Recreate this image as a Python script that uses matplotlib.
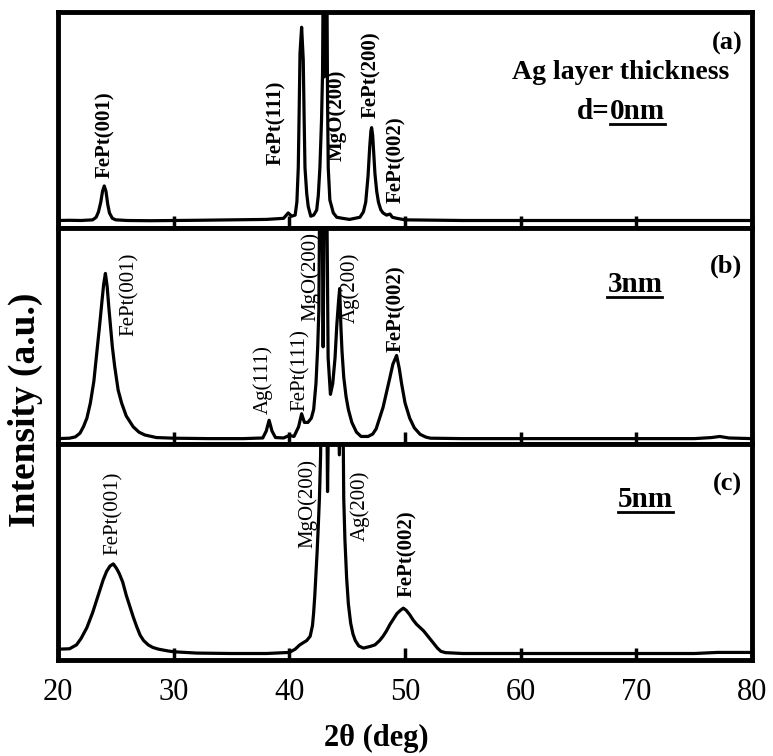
import numpy as np
import matplotlib
matplotlib.use('Agg')
import matplotlib.pyplot as plt
from matplotlib.lines import Line2D

plt.rcParams['font.family'] = ['Liberation Serif', 'DejaVu Serif']

# (a) d = 0 nm
tt_a = [20.0, 21.0, 22.0, 23.0, 23.3, 23.5, 23.7, 23.85, 24.0, 24.15, 24.3, 24.45, 24.7,
        25.0, 26.0, 28.0, 30.0, 32.0, 35.0, 38.0, 39.5, 39.9, 40.2, 40.5, 40.65, 40.77,
        40.85, 40.92, 41.06, 41.2, 41.28, 41.35, 41.5, 41.63, 41.85, 42.1, 42.36, 42.5,
        42.64, 42.78, 42.87, 42.95, 43.02, 43.1, 43.22, 43.3, 43.36, 43.5, 43.8, 44.1,
        44.6, 45.2, 46.1, 46.4, 46.6, 46.8, 46.95, 47.05, 47.11, 47.2, 47.3, 47.4, 47.55,
        47.7, 47.9, 48.1, 48.4, 48.7, 48.9, 49.3, 50.0, 55.0, 60.0, 65.0, 70.0, 75.0, 80.0]
I_a = [3.5, 3.6, 3.5, 3.8, 5, 7.5, 12, 17, 19.5, 17, 11, 7, 4.5,
       3.8, 3.5, 3.4, 3.5, 3.6, 3.8, 4.0, 4.5, 7, 5.5, 6, 12, 28,
       55, 81, 93, 78, 50, 28, 16, 10, 5.5, 6, 8.3, 15,
       28, 50, 72, 140, 70, 140, 140, 60, 28, 13, 7, 5,
       4.5, 4, 5, 7.5, 12, 24, 38, 45, 46.5, 43, 34, 25, 17,
       12, 8.5, 7, 6, 6.5, 5, 4.5, 3.8, 3.5, 3.5, 3.5, 3.5, 3.5, 3.5]

# (b) d = 3 nm
tt_b = [20.0, 21.0, 21.5, 21.9, 22.2, 22.5, 22.8, 23.1, 23.35, 23.6, 23.8, 23.95, 24.1,
        24.25, 24.4, 24.5, 24.7, 24.9, 25.2, 25.5, 25.9, 26.5, 27.0, 27.5, 28.5, 30.0,
        33.0, 36.0, 37.7, 38.0, 38.25, 38.5, 38.8, 39.5, 40.0, 40.4, 40.8, 41.06, 41.3,
        41.6, 41.9, 42.1, 42.3, 42.45, 42.55, 42.65, 42.8, 42.92, 43.05, 43.2, 43.35,
        43.55, 43.75, 43.95, 44.1, 44.25, 44.35, 44.45, 44.55, 44.7, 44.9, 45.1, 45.4,
        45.8, 46.2, 46.8, 47.2, 47.5, 47.8, 48.1, 48.4, 48.7, 48.95, 49.27, 49.5, 49.7,
        50.0, 50.4, 50.8, 51.3, 51.8, 52.2, 55.0, 60.0, 65.0, 70.0, 75.0, 76.5, 77.2,
        78.0, 80.0]
I_b = [2.5, 2.7, 3.3, 5, 8, 12, 19, 29, 42, 55, 66, 74, 79,
       73, 63, 57, 45, 36, 25, 19, 13, 8, 5.5, 4.2, 3, 2.7,
       2.5, 2.5, 2.8, 6, 11, 6, 3, 2.8, 4, 3.5, 8, 14, 10,
       10, 12, 16, 28, 45, 62, 140, 140, 45, 140, 140, 40,
       23, 28, 40, 55, 66, 72, 55, 43, 31, 22, 16, 10,
       5.5, 3.5, 3.5, 4.6, 7, 12, 17, 24, 31, 37, 41, 35, 28,
       19, 12, 7.5, 4.5, 3.2, 2.7, 2.5, 2.5, 2.5, 2.5, 2.5, 3, 3.5,
       2.8, 2.5]

# (c) d = 5 nm
tt_c = [20.0, 21.0, 21.6, 22.0, 22.5, 23.0, 23.3, 23.6, 23.9, 24.2, 24.5, 24.78, 25.05,
        25.3, 25.6, 25.9, 26.2, 26.5, 26.8, 27.1, 27.4, 27.8, 28.2, 28.7, 29.5, 30.0,
        32.0, 35.0, 38.0, 40.0, 40.5, 40.9, 41.5, 41.8, 42.0, 42.1, 42.2, 42.3, 42.4,
        42.5, 42.6, 42.7, 42.8, 43.2, 43.3, 43.45, 44.2, 44.32, 44.5, 44.6, 44.7, 44.8,
        44.95, 45.1, 45.3, 45.5, 45.7, 46.0, 46.4, 47.0, 47.4, 47.8, 48.1, 48.4, 48.7,
        49.0, 49.3, 49.6, 49.85, 50.1, 50.4, 50.7, 51.0, 51.3, 51.6, 51.9, 52.2, 52.5,
        52.8, 53.1, 53.5, 55.0, 60.0, 70.0, 75.0, 77.0, 80.0]
I_c = [5, 5.2, 7, 10, 15, 22, 27, 32, 37, 41, 43.5, 44.5, 42.5,
       40, 36, 30, 25, 20, 15.5, 11.5, 9, 7, 5.8, 5, 4.2, 3.8,
       3.2, 3.0, 3.0, 3.5, 5, 7, 9, 11, 16, 22, 30, 40, 50,
       62, 75, 95, 140, 140, 78, 140, 140, 95, 140, 140, 75, 56,
       38, 26, 17, 12, 9, 6.5, 5.5, 6.3, 7, 9, 11, 13.5, 16.5,
       19, 21.5, 23, 24, 23, 21, 18.5, 16.5, 15, 13.5, 11.5, 9.5, 7.5,
       5.5, 4, 3.4, 3, 3, 3, 3, 3.5, 3.5]

# peak labels: (2theta, bottom of text, text, bold)
labels_a = [(24.06, 23, 'FePt(001)', True), (38.85, 29, 'FePt(111)', True),
            (44.1, 31, 'MgO(200)', True), (47.1, 51, 'FePt(200)', True),
            (49.25, 11.5, 'FePt(002)', True)]
labels_b = [(26.2, 50, 'FePt(001)', False), (37.7, 14, 'Ag(111)', False),
            (40.95, 15.5, 'FePt(111)', False), (41.85, 57, 'MgO(200)', False),
            (45.2, 56, 'Ag(200)', False), (49.27, 42.5, 'FePt(002)', True)]
labels_c = [(24.78, 48.5, 'FePt(001)', False), (41.6, 52, 'MgO(200)', False),
            (46.1, 55, 'Ag(200)', False), (50.2, 29, 'FePt(002)', True)]

xticks = [20, 30, 40, 50, 60, 70, 80]

fig, axs = plt.subplots(3, 1, figsize=(7.73, 7.56), dpi=100, sharex=True)
fig.subplots_adjust(left=0.075, right=0.973, bottom=0.127, top=0.984, hspace=0)

curves = [(tt_a, I_a, labels_a), (tt_b, I_b, labels_b), (tt_c, I_c, labels_c)]
for ax, (tt, inten, labs) in zip(axs, curves):
    ax.plot(tt, inten, color='black', lw=2.3, solid_joinstyle='round')
    for x, y, s, bold in labs:
        ax.text(x, y, s, rotation=90, ha='center', va='bottom', fontsize=15,
                fontweight='bold' if bold else 'normal')
    ax.set_xlim(20, 80)
    ax.set_ylim(0, 100)
    ax.set_yticks([])
    ax.set_xticks(xticks)
    ax.tick_params(axis='x', direction='in', length=9, width=2.5, labelsize=22, pad=13)
    for sp in ax.spines.values():
        sp.set_linewidth(3.5)

axs[0].tick_params(axis='x', labelbottom=False)
axs[1].tick_params(axis='x', labelbottom=False)

axs[0].text(0.986, 0.855, '(a)', transform=axs[0].transAxes, ha='right', va='center',
            fontsize=19, fontweight='bold')
axs[0].text(0.811, 0.722, 'Ag layer thickness', transform=axs[0].transAxes, ha='center',
            va='center', fontsize=20, fontweight='bold')
axs[0].text(0.795, 0.54, 'd=', transform=axs[0].transAxes,
            ha='right', va='center', fontsize=21, fontweight='bold')
t0 = axs[0].text(0.795, 0.54, '0nm', transform=axs[0].transAxes,
                 ha='left', va='center', fontsize=21, fontweight='bold')

axs[1].text(0.986, 0.824, '(b)', transform=axs[1].transAxes, ha='right', va='center',
            fontsize=19, fontweight='bold')
t3 = axs[1].text(0.831, 0.74, '3nm', transform=axs[1].transAxes,
                 ha='center', va='center', fontsize=21, fontweight='bold')

axs[2].text(0.986, 0.815, '(c)', transform=axs[2].transAxes, ha='right', va='center',
            fontsize=19, fontweight='bold')
t5 = axs[2].text(0.846, 0.745, '5nm', transform=axs[2].transAxes,
                 ha='center', va='center', fontsize=21, fontweight='bold')

fig.text(376 / 773, 1 - 738 / 756, '2θ (deg)', ha='center', va='center',
         fontsize=22, fontweight='bold')
fig.text(25 / 773, 1 - 410 / 756, 'Intensity (a.u.)', ha='center', va='center',
         rotation=90, fontsize=27, fontweight='bold')

# underline the thickness values
fig.canvas.draw()
W, H = fig.canvas.get_width_height()
for t in [t0, t3, t5]:
    bb = t.get_window_extent()
    y = (bb.y0 + 1) / H
    fig.add_artist(Line2D([bb.x0 / W, bb.x1 / W], [y, y], color='black', lw=2,
                          transform=fig.transFigure))

plt.savefig('out.png', dpi=100)
